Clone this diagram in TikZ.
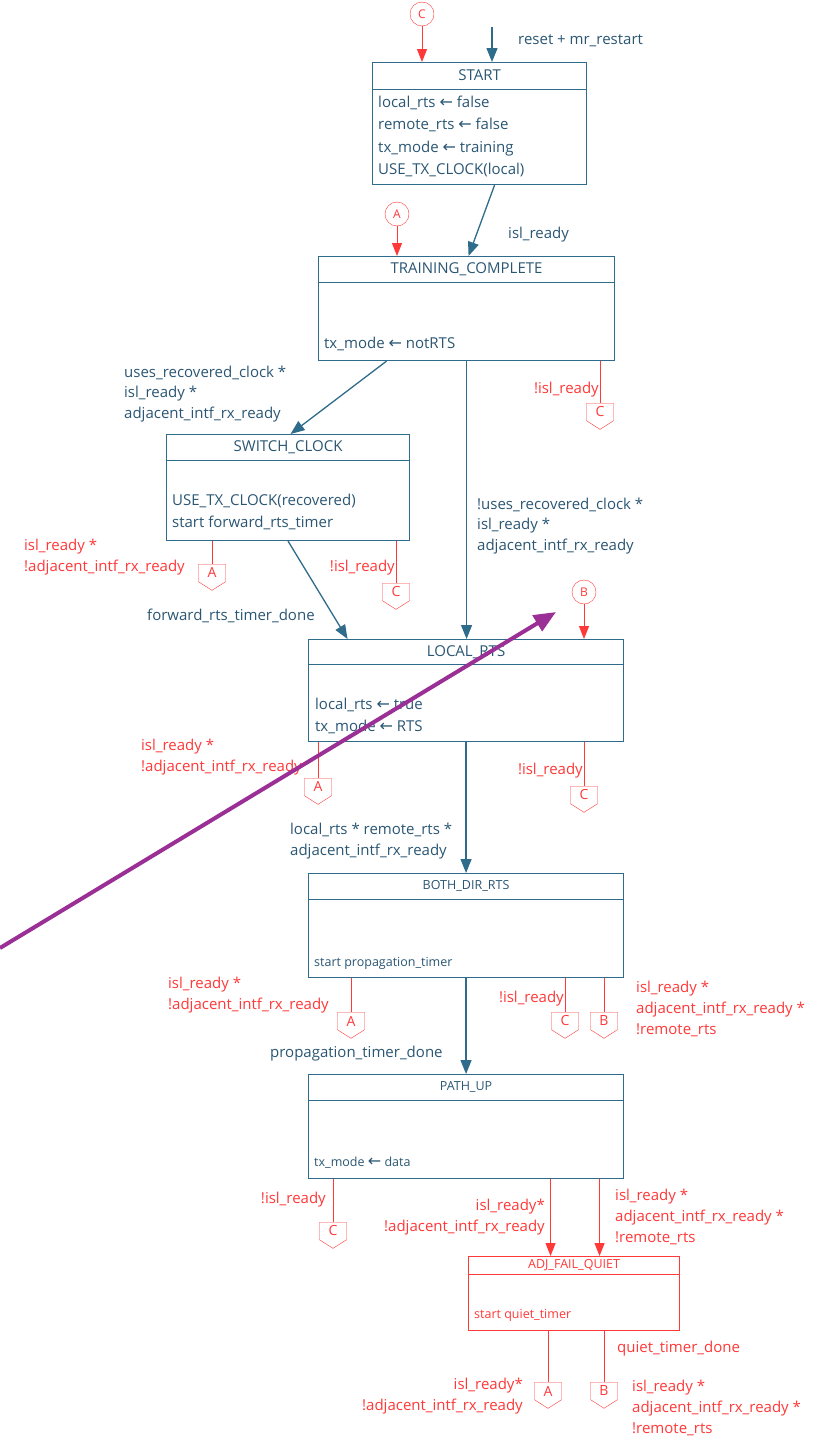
\documentclass[tikz,border=0pt]{standalone}
\usepackage{fontspec}
\setmainfont{Open Sans}
\newfontfamily\arrowfont{DejaVu Sans}
\usetikzlibrary{arrows.meta,shapes.symbols,calc}
\definecolor{stline}{HTML}{2F6B8A}
\definecolor{sttext}{HTML}{2A5673}
\definecolor{failred}{HTML}{FF3838}
\definecolor{pointer}{HTML}{9A2F95}
\newcommand{\setto}{{\arrowfont\fontsize{16}{16}\selectfont ←}}
\tikzset{
  state/.style={draw=stline, line width=1.1pt, anchor=north west, inner sep=0pt},
  title/.style={text=sttext, font=\fontsize{15}{18}\selectfont, inner sep=0pt},
  smalltitle/.style={title, font=\fontsize{12.5}{15}\selectfont},
  body/.style={text=sttext, font=\fontsize{15}{22.2}\selectfont, align=left, anchor=north west, inner sep=0pt},
  smallbody/.style={body, font=\fontsize{12.5}{15}\selectfont},
  guard/.style={text=sttext, font=\fontsize{15}{20.8}\selectfont, align=left, anchor=west, inner sep=0pt},
  failguard/.style={guard, text=failred},
  trans/.style={draw=stline, line width=1.3pt, -{Triangle[length=14pt,width=11pt]}},
  failtrans/.style={draw=failred, line width=1pt, -{Triangle[length=13pt,width=10pt]}},
  fail/.style={draw=failred, line width=1pt},
  conn/.style={circle, draw=failred, text=failred, minimum size=24pt, inner sep=0pt, font=\fontsize{12}{12}\selectfont},
  exitpt/.style={signal, signal to=south, signal pointer angle=115, draw=failred, text=failred, anchor=north,
    minimum width=27pt, minimum height=21pt, inner sep=1pt, font=\fontsize{14}{14}\selectfont}
}
\begin{document}
\begin{tikzpicture}[x=1pt,y=-1pt]
  \useasboundingbox (0,0) rectangle (822,1440);
  \node[state, minimum width=214pt, minimum height=122pt] (start) at (372,62) {};
  \node[state, minimum width=296pt, minimum height=104pt] (train) at (318,256) {};
  \node[state, minimum width=243pt, minimum height=106pt] (switch) at (166,434) {};
  \node[state, minimum width=315pt, minimum height=102pt] (local) at (308,639) {};
  \node[state, minimum width=315pt, minimum height=104pt] (both) at (308,873) {};
  \node[state, minimum width=315pt, minimum height=104pt] (pathup) at (308,1074) {};
  \node[state, draw=failred, minimum width=211pt, minimum height=74pt] (quiet) at (468,1256) {};
  \foreach \n/\h in {start/27,train/26,switch/26,local/25,both/26,pathup/26}
    \draw[stline, line width=0.9pt] ([yshift=-\h pt]\n.north west) -- ([yshift=-\h pt]\n.north east);
  \draw[failred, line width=0.9pt] ([yshift=-18pt]quiet.north west) -- ([yshift=-18pt]quiet.north east);

  \node[title] (startT) at ($(start.north)+(0,13)$) {START};
  \node[title] (trainT) at ($(train.north)+(0,13)$) {TRAINING\_COMPLETE};
  \node[title] (switchT) at ($(switch.north)+(0,13)$) {SWITCH\_CLOCK};
  \node[title] (localT) at ($(local.north)+(0,13)$) {LOCAL\_RTS};
  \node[smalltitle] (bothT) at ($(both.north)+(0,13)$) {BOTH\_DIR\_RTS};
  \node[smalltitle] (pathupT) at ($(pathup.north)+(0,13)$) {PATH\_UP};
  \node[smalltitle, text=failred] (quietT) at ($(quiet.north)+(0,9)$) {ADJ\_FAIL\_QUIET};

  \node[body] (startB) at (378,96) {local\_rts \setto{} false\\remote\_rts \setto{} false\\tx\_mode \setto{} training\\USE\_TX\_CLOCK(local)};
  \node[body] (trainB) at (324,337) {tx\_mode \setto{} notRTS};
  \node[body] (switchB) at (172,494) {USE\_TX\_CLOCK(recovered)\\start forward\_rts\_timer};
  \node[body] (localB) at (315,698) {local\_rts \setto{} true\\tx\_mode \setto{} RTS};
  \node[smallbody] (bothB) at (314,957) {start propagation\_timer};
  \node[smallbody] (pathupB) at (314,1157) {tx\_mode \setto{} data};
  \node[smallbody, text=failred] (quietB) at (474,1309) {start quiet\_timer};

  \coordinate (entry) at (492,27);
  \draw[trans] (entry) -- (entry |- start.north);
  \node[guard] (lreset) at (518,41) {reset + mr\_restart};
  \node[conn] (cirC) at (422,14) {C}; \draw[failtrans] (cirC) -- (cirC |- start.north);
  \node[conn] (cirA) at (397,214) {A}; \draw[failtrans] (cirA) -- (cirA |- train.north);
  \node[conn] (cirB) at (584,592) {B}; \draw[failtrans] (cirB) -- (cirB |- local.north);

  \draw[trans] ([xshift=15pt]start.south) -- ([xshift=2pt]train.north);
  \node[guard] (lisl) at (508,235) {isl\_ready};
  \draw[trans] ([xshift=-80pt]train.south) -- ([xshift=2.5pt]switch.north);
  \node[guard] (lswitch) at (124,394) {uses\_recovered\_clock *\\isl\_ready *\\adjacent\_intf\_rx\_ready};
  \draw[trans] (train.south) -- (train.south |- local.north);
  \node[guard] (lnorec) at (477,526) {!uses\_recovered\_clock *\\isl\_ready *\\adjacent\_intf\_rx\_ready};
  \draw[trans] (switch.south) -- ([xshift=-118.5pt]local.north);
  \node[guard] (lfwd) at (147,616) {forward\_rts\_timer\_done};
  \draw[trans] (local.south) -- (both.north);
  \node[guard] (lboth) at (290,841) {local\_rts * remote\_rts *\\adjacent\_intf\_rx\_ready};
  \draw[trans] (both.south) -- (pathup.north);
  \node[guard] (lprop) at (270,1054) {propagation\_timer\_done};
  \draw[failtrans] ([xshift=84.5pt]pathup.south) -- ([xshift=84.5pt]pathup.south |- quiet.north);
  \node[failguard, align=right, anchor=east] (lq1) at (545,1217) {isl\_ready*\\!adjacent\_intf\_rx\_ready};
  \draw[failtrans] ([xshift=133.5pt]pathup.south) -- ([xshift=133.5pt]pathup.south |- quiet.north);
  \node[failguard] (lq2) at (615,1217) {isl\_ready *\\adjacent\_intf\_rx\_ready *\\!remote\_rts};

  \foreach \nm/\x/\y/\l/\src in {xtrC/600/403/C/train, xswA/212/564/A/switch, xswC/396/583/C/switch,
      xloA/318/778/A/local, xloC/584/786/C/local, xboA/351/1012/A/both, xboC/565/1012/C/both,
      xboB/604/1012/B/both, xpuC/333/1222/C/pathup, xquA/548/1382/A/quiet, xquB/604/1382/B/quiet}
    {\node[exitpt] (\nm) at (\x,\y) {\l}; \draw[fail] (\nm.north |- \src.south) -- (\nm.north);}

  \node[failguard, anchor=east] (ltrC) at (599,390) {!isl\_ready};
  \node[failguard] (lswA) at (24,557) {isl\_ready *\\!adjacent\_intf\_rx\_ready};
  \node[failguard, anchor=east] (lswC) at (395,568) {!isl\_ready};
  \node[failguard] (lloA) at (141,757) {isl\_ready *\\!adjacent\_intf\_rx\_ready};
  \node[failguard, anchor=east] (lloC) at (583,771) {!isl\_ready};
  \node[failguard] (lboA) at (168,995) {isl\_ready *\\!adjacent\_intf\_rx\_ready};
  \node[failguard, anchor=east] (lboC) at (564,999) {!isl\_ready};
  \node[failguard] (lboB) at (636,1009) {isl\_ready *\\adjacent\_intf\_rx\_ready *\\!remote\_rts};
  \node[failguard, anchor=east] (lpuC) at (326,1200) {!isl\_ready};
  \node[failguard, align=right, anchor=east] (lquA) at (523,1396) {isl\_ready*\\!adjacent\_intf\_rx\_ready};
  \node[failguard] (lquT) at (617,1349) {quiet\_timer\_done};
  \node[failguard] (lquB) at (632,1408) {isl\_ready *\\adjacent\_intf\_rx\_ready *\\!remote\_rts};

  \coordinate (pstart) at (0,948); \coordinate (ptip) at (556,612);
  \draw[pointer, line width=4pt, -{Triangle[length=22pt,width=18pt]}] (pstart) -- (ptip);
\end{tikzpicture}
\end{document}
